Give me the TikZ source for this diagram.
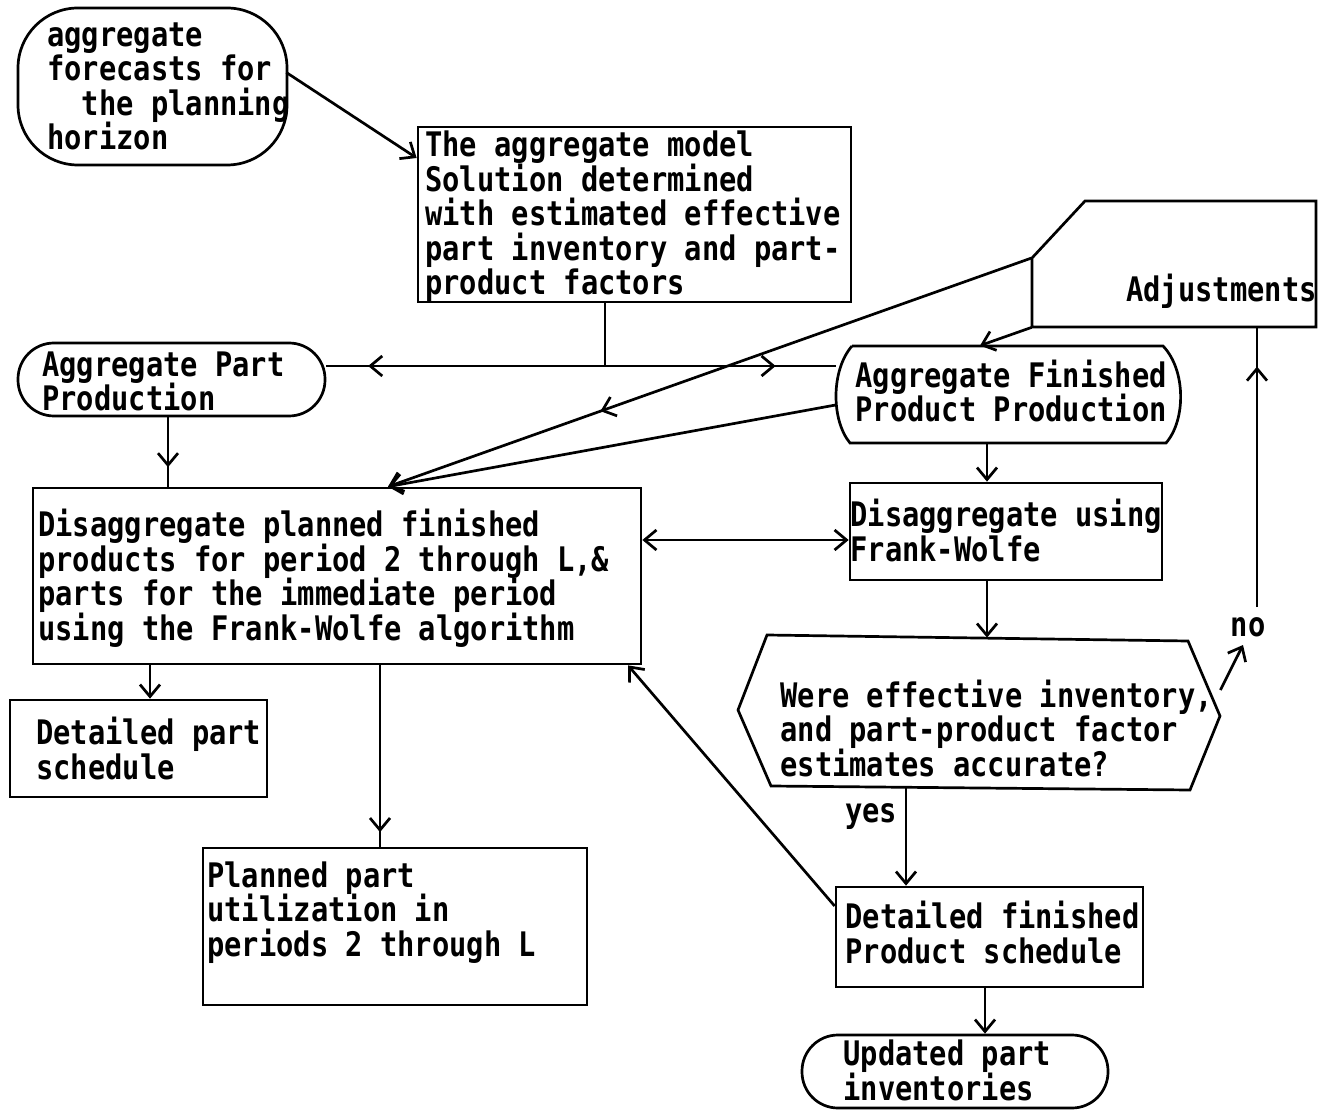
\documentclass[tikz,border=0pt]{standalone}
\usepackage{fontspec}
\newfontfamily\tw{DejaVu Sans Mono}[FakeStretch=0.85]
\usetikzlibrary{arrows.meta,decorations.markings,fit,calc}
\newcommand\twfont{\tw\bfseries\fontsize{16.9}{17.25}\selectfont\lineskiplimit-30pt\relax}
\tikzset{
  >={Straight Barb[length=6pt,width=10pt]},
  ln/.style={line width=1.35pt},
  box/.style={draw, ln, inner sep=0pt},
  term/.style={draw, ln, inner sep=0pt, rounded corners=#1},
  area/.style={inner sep=0pt},
  % anchored at the baseline of the last line; lines kept 17.25pt apart
  txt/.style={font=\twfont, align=left, inner sep=0pt, anchor=base west},
  flow/.style={ln, ->},
  midflow/.style={ln, postaction={decorate}, decoration={markings, mark=at position #1 with {\arrow{>}}}},
}
\begin{document}
\begin{tikzpicture}[x=0.5pt,y=-0.5pt]
\useasboundingbox (0,0) rectangle (1328,1112);
\fill[white] (0,0) rectangle (1328,1112);

% boxes and terminals
\node[term=30pt, fit={(18,8) (287,165)}] (fore) {};
\node[box, fit={(418,127) (851,302)}] (model) {};
\node[term=18pt, fit={(18,343) (325,416)}] (app) {};
\node[box, fit={(33,488) (641,664)}] (big) {};
\node[box, fit={(850,483) (1162,580)}] (fw) {};
\node[box, fit={(10,700) (267,797)}] (dps) {};
\node[box, fit={(203,848) (587,1005)}] (ppu) {};
\node[box, fit={(836,887) (1143,987)}] (dfp) {};
\node[term=18pt, fit={(802,1035) (1108,1108)}] (upi) {};

% shapes drawn as outlines
\node[area, fit={(836,346) (1180,443)}] (afp) {};
\draw[ln] (852,346) -- (1163,346) .. controls (1186,370) and (1186,420) .. (1166,443)
  -- (850,443) .. controls (831,420) and (831,370) .. (852,346);
\node[area, fit={(1032,201) (1316,327)}] (adj) {};
\draw[ln] (1032,258) -- (1085,201) -- (1316,201) -- (1316,327) -- (1032,327) -- cycle;
\node[area, fit={(738,638) (1220,788)}] (hex) {};
\draw[ln] (738,710) -- (767,635) -- (1188,641) -- (1220,716) -- (1190,790) -- (771,786) -- cycle;

% texts
\node[txt] (tfore) at (47,150) {aggregate\\forecasts for\\\phantom{xx}the planning\\horizon};
\node[txt] (tmodel) at (425,295) {The aggregate model\\Solution determined\\with estimated effective\\part inventory and part-\\product factors};
\node[txt] (tapp) at (42,411) {Aggregate Part\\Production};
\node[txt] (tafp) at (855,422) {Aggregate Finished\\Product Production};
\node[txt, anchor=base east] (tadj) at (1317,302) {Adjustments};
\node[txt] (tbig) at (38,640) {Disaggregate planned finished\\products for period 2 through L,\&\\parts for the immediate period\\using the Frank-Wolfe algorithm};
\node[txt] (tfw) at (850,561) {Disaggregate using\\Frank-Wolfe};
\node[txt] (thex) at (780,776) {Were effective inventory,\\and part-product factor\\estimates accurate?};
\node[txt] (tdfp) at (845,963) {Detailed finished\\Product schedule};
\node[txt] (tupi) at (843,1100) {Updated part\\inventories};
\node[txt] (tdps) at (36,779) {Detailed part\\schedule};
\node[txt] (tppu) at (207,956) {Planned part\\utilization in\\periods 2 through L};
\node[txt, anchor=center] (tyes) at (871,817) {yes};
\node[txt, anchor=center] (tno) at (1248,627) {no};

% connectors
\draw[flow] ($(fore.east)+(-2,-14)$) -- (model.west |- 0,158);
\coordinate (jn) at (605,366);
\draw[ln] (model.south -| jn) -- (jn);
\draw[midflow=0.85] (jn) -- (jn -| app.east);
\draw[midflow=0.74] (jn) -- (jn -| afp.west);
\draw[midflow=0.72] (app.south -| 168,0) -- (168,0 |- big.north);
\draw[flow, midflow=0.67] (adj.west |- 0,258) -- (388,0 |- big.north);
\draw[flow] (adj.south west) -- (980,0 |- afp.north);
\draw[flow] (afp.west |- 0,405) -- (388,0 |- big.north);
\draw[flow] (afp.south -| 987,0) -- (987,0 |- fw.north);
\draw[ln, <->] (big.east |- 0,540) -- (fw.west |- 0,540);
\draw[flow] (fw.south -| 987,0) -- (987,0 |- hex.north);
\draw[flow] (big.south -| 150,0) -- (150,0 |- dps.north);
\draw[midflow=0.92] (big.south -| 380,0) -- (380,0 |- ppu.north);
\draw[flow] (hex.south -| 906,0) -- (906,0 |- dfp.north);
\draw[flow] (dfp.west |- 0,906) -- (628,0 |- big.south);
\draw[flow] (dfp.south -| 985,0) -- (985,0 |- upi.north);
\draw[flow] (hex.east |- 0,690) -- (1243,645);
\draw[midflow=0.86] (1257,607) -- (1257,0 |- adj.south);
\end{tikzpicture}
\end{document}
